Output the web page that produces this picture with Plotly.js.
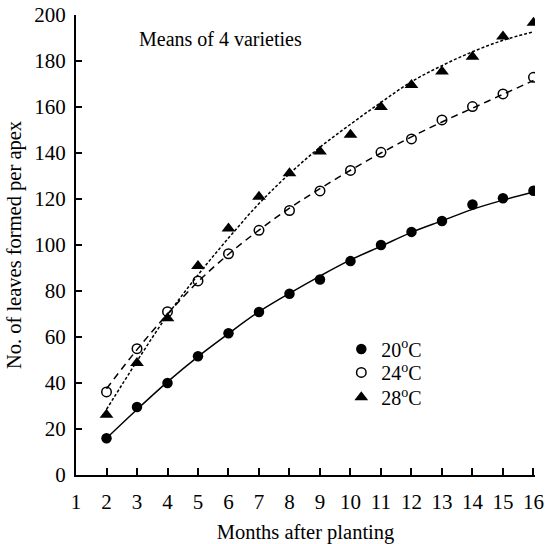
<!DOCTYPE html>
<html>
<head>
<meta charset="utf-8">
<script src="https://cdn.plot.ly/plotly-3.0.1.min.js"></script>
<style>html,body{margin:0;padding:0;background:#fff;}#chart{width:546px;height:544px;}</style>
</head>
<body>
<div id="chart"></div>
<script>
// Months after planting
const months = [2, 3, 4, 5, 6, 7, 8, 9, 10, 11, 12, 13, 14, 15, 16];
const xTicks = [1, 2, 3, 4, 5, 6, 7, 8, 9, 10, 11, 12, 13, 14, 15, 16];
// Observed means (leaves formed per apex)
const obs20 = [16.0, 29.6, 40.0, 51.6, 61.6, 70.9, 78.8, 85.0, 93.0, 100.0, 105.7, 110.4, 117.6, 120.3, 123.6];
const obs24 = [36.1, 54.9, 71.0, 84.4, 96.2, 106.4, 115.0, 123.5, 132.4, 140.3, 146.1, 154.4, 160.2, 165.7, 172.9];
const obs28 = [26.2, 48.7, 68.2, 90.9, 107.2, 121.0, 131.2, 140.6, 147.9, 160.0, 169.6, 175.4, 181.9, 190.6, 196.6];
// Fitted trend lines
const fit20 = [16.0, 28.5, 40.5, 51.5, 61.5, 71.0, 79.0, 86.5, 93.5, 99.5, 105.5, 110.5, 115.5, 119.5, 123.0];
const fit24 = [37.5, 54.5, 70.0, 84.0, 96.0, 106.5, 116.0, 124.5, 132.5, 140.0, 147.0, 153.5, 159.5, 165.5, 171.5];
const fit28 = [28.5, 49.5, 69.5, 87.0, 103.0, 118.0, 131.0, 142.5, 152.5, 162.0, 171.0, 178.0, 184.0, 189.0, 192.7];
const seriesNames = ['20<sup>o</sup>C', '24<sup>o</sup>C', '28<sup>o</sup>C'];

const FONT = 'Liberation Serif, Times New Roman, serif';

const traces = [
  {x: months, y: fit20, mode: 'lines', line: {color: '#000', width: 1.5, shape: 'spline'}, showlegend: false, hoverinfo: 'skip'},
  {x: months, y: fit24, mode: 'lines', line: {color: '#000', width: 1.5, dash: '7px,5px', shape: 'spline'}, showlegend: false, hoverinfo: 'skip'},
  {x: months, y: fit28, mode: 'lines', line: {color: '#000', width: 1.5, dash: '3px,2px', shape: 'spline'}, showlegend: false, hoverinfo: 'skip'},
  {x: months, y: obs20, mode: 'markers', name: seriesNames[0], legend: 'legend',
   marker: {symbol: 'circle', size: 10.5, color: '#000', line: {color: '#000', width: 0}}},
  {x: months, y: obs24, mode: 'markers', name: seriesNames[1], legend: 'legend2',
   marker: {symbol: 'circle-open', size: 9.5, color: '#000', line: {color: '#000', width: 1.5}}},
  {x: months, y: obs28, mode: 'markers', name: seriesNames[2], legend: 'legend3',
   marker: {symbol: 'triangle-up', size: 12, color: '#000', line: {color: '#000', width: 0}}}
];

function leg(y) {
  return {
    x: 0.578, y: y, xanchor: 'left', yanchor: 'middle',
    bgcolor: 'rgba(0,0,0,0)', borderwidth: 0,
    font: {family: FONT, size: 20, color: '#000'},
    itemwidth: 30
  };
}

const layout = {
  width: 546, height: 544,
  margin: {l: 76, r: 11, t: 15, b: 69},
  paper_bgcolor: '#fff', plot_bgcolor: '#fff',
  font: {family: FONT, size: 20, color: '#000'},
  showlegend: true,
  legend: leg(0.274),
  legend2: leg(0.223),
  legend3: leg(0.169),
  xaxis: {
    range: [1, 16.05], tickmode: 'array', tickvals: xTicks, ticktext: xTicks.map(String),
    showgrid: false, zeroline: false, showline: true, linecolor: '#000', linewidth: 2,
    ticks: 'inside', ticklen: 7, tickwidth: 2, tickcolor: '#000',
    ticklabelstandoff: 7,
    tickfont: {family: FONT, size: 21, color: '#000'},
    title: {text: 'Months after planting', font: {family: FONT, size: 20.5, color: '#000'}, standoff: 15}
  },
  yaxis: {
    range: [0, 200], dtick: 20, tick0: 0,
    showgrid: false, zeroline: false, showline: true, linecolor: '#000', linewidth: 2,
    ticks: 'inside', ticklen: 6, tickwidth: 2, tickcolor: '#000',
    ticklabelstandoff: 4,
    tickfont: {family: FONT, size: 21, color: '#000'},
    title: {text: 'No. of leaves formed per apex', font: {family: FONT, size: 20.5, color: '#000'}, standoff: 7}
  },
  annotations: [
    {x: 3.0, y: 189.5, xref: 'x', yref: 'y', xanchor: 'left', yanchor: 'middle', showarrow: false,
     text: 'Means of 4 varieties', font: {family: FONT, size: 20, color: '#000'}}
  ]
};

Plotly.newPlot('chart', traces, layout, {displayModeBar: false, staticPlot: true});
</script>
</body>
</html>
